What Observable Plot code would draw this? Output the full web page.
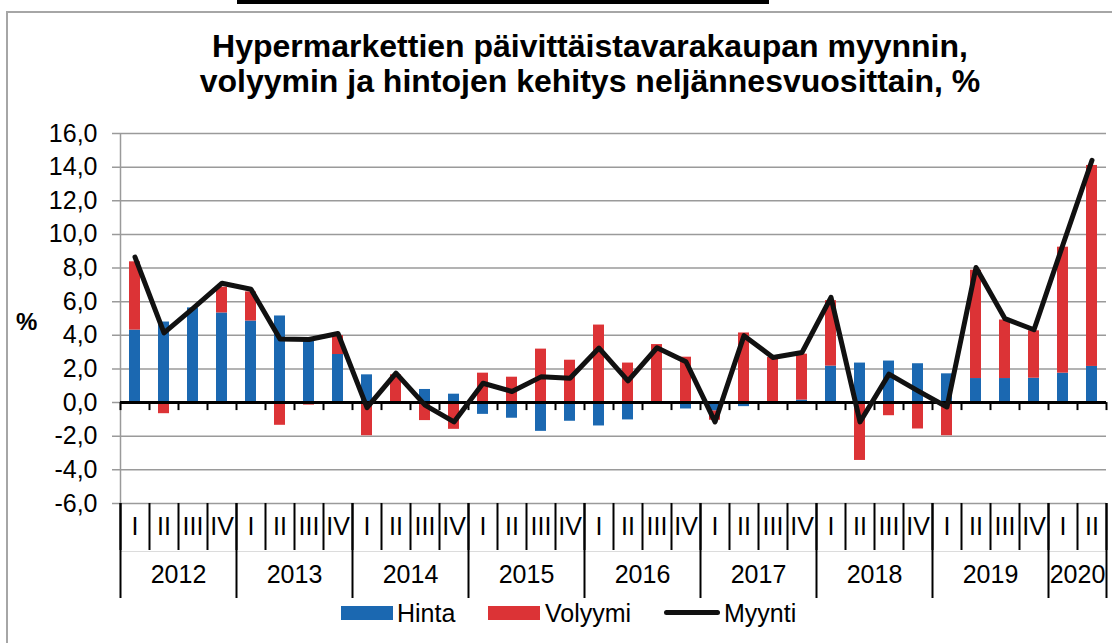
<!DOCTYPE html>
<html>
<head>
<meta charset="utf-8">
<script src="https://cdn.jsdelivr.net/npm/d3@7"></script>
<script src="https://cdn.jsdelivr.net/npm/@observablehq/plot@0.6"></script>
<style>
  body { margin: 0; background: #fff; font-family: "Liberation Sans", Arial, sans-serif; }
  #wrap { position: relative; width: 1112px; height: 643px; overflow: hidden; background: #fff; }
  #topbar { position: absolute; left: 237px; top: 0; width: 532px; height: 4px; background: #000; }
  #frame { position: absolute; left: 6px; top: 11px; width: 1110px; height: 640px; border-left: 2px solid #a6a6a6; border-top: 2px solid #a6a6a6; }
  #title { position: absolute; left: 90px; width: 1000px; top: 29px; text-align: center; font-weight: bold; font-size: 32px; line-height: 35px; color: #000; }
  #chart { position: absolute; left: 0; top: 0; }
  #ylab { position: absolute; left: 16px; top: 308px; font-weight: bold; font-size: 24px; line-height: 28px; }
  .leg { position: absolute; font-size: 25px; line-height: 28px; top: 599px; color: #000; }
  .sw { position: absolute; top: 606px; width: 52px; height: 14px; }
  #lline { position: absolute; left: 664px; top: 610px; width: 56px; height: 5px; background: #111; border-radius: 3px; }
</style>
</head>
<body>
<div id="wrap">
  <div id="topbar"></div>
  <div id="frame"></div>
  <div id="chart"></div>
  <div id="title">Hypermarkettien päivittäistavarakaupan myynnin,<br>volyymin ja hintojen kehitys neljännesvuosittain, %</div>
  <div id="ylab">%</div>
  <div class="sw" style="left:341px;background:#1b68b1"></div>
  <div class="leg" style="left:397px">Hinta</div>
  <div class="sw" style="left:488px;background:#dc3336"></div>
  <div class="leg" style="left:545px">Volyymi</div>
  <div id="lline"></div>
  <div class="leg" style="left:724px">Myynti</div>
</div>
<script>
// ---- data ----
const years = ["2012", "2013", "2014", "2015", "2016", "2017", "2018", "2019", "2020"];
const quarterNames = ["I", "II", "III", "IV"];
const hinta = [4.31, 4.79, 5.63, 5.33, 4.85, 5.15, 3.85, 2.86,
               1.65, 0.05, 0.78, 0.50, -0.70, -0.93, -1.71, -1.11,
               -1.39, -1.03, 0.00, -0.38, -0.50, -0.24, -0.10, 0.15,
               2.17, 2.35, 2.47, 2.31, 1.71, 1.43, 1.43, 1.45,
               1.75, 2.15];
const volyymi = [4.06, -0.66, 0.00, 1.53, 1.73, -1.35, -0.15, 1.12,
                 -1.97, 1.60, -1.07, -1.59, 1.75, 1.51, 3.18, 2.52,
                 4.61, 2.35, 3.45, 2.70, -0.55, 4.14, 2.68, 2.73,
                 3.89, -3.44, -0.78, -1.57, -1.97, 6.44, 3.48, 2.82,
                 7.49, 11.95];
const myynti = [8.65, 4.15, 5.60, 7.10, 6.74, 3.78, 3.75, 4.11,
                -0.30, 1.75, -0.15, -1.15, 1.15, 0.66, 1.53, 1.45,
                3.24, 1.29, 3.26, 2.43, -1.15, 3.98, 2.68, 2.98,
                6.26, -1.15, 1.69, 0.70, -0.26, 8.03, 4.99, 4.33,
                9.40, 14.41];
const yTicks = [-6, -4, -2, 0, 2, 4, 6, 8, 10, 12, 14, 16];

// ---- derived tables ----
const rows = myynti.map((v, i) => ({
  i, q: quarterNames[i % 4], year: years[Math.floor(i / 4)], myynti: v
}));
const bars = [];
rows.forEach(r => {
  bars.push({i: r.i, series: "Hinta", value: hinta[r.i]});
  bars.push({i: r.i, series: "Volyymi", value: volyymi[r.i]});
});
const n = rows.length;
const bounds = d3.range(n + 1);
const yearBounds = bounds.filter(b => b % 4 === 0 || b === n);
const yearRows = years.map((y, k) => {
  const s = k * 4, e = Math.min(n, s + 4);
  return {year: y, mid: (s + e) / 2};
});

const fmt = d => d.toFixed(1).replace(".", ",");
const blue = "#1b68b1", red = "#dc3336";
const H = 643, mT = 133, mB = 140;
const innerH = H - mT - mB;

const chart = Plot.plot({
  width: 1112,
  height: H,
  marginLeft: 120,
  marginRight: 6,
  marginTop: mT,
  marginBottom: mB,
  x: {type: "linear", domain: [0, n], axis: null},
  y: {domain: [-6, 16], axis: null},
  color: {domain: ["Hinta", "Volyymi"], range: [blue, red]},
  style: {
    fontFamily: "'Liberation Sans', Arial, sans-serif",
    fontSize: "25px",
    color: "#000",
    background: "transparent",
    overflow: "visible"
  },
  marks: [
    Plot.ruleY(yTicks, {stroke: "#9a9a9a", strokeWidth: 1.5, insetLeft: -8}),
    Plot.ruleX([0], {stroke: "#9a9a9a", strokeWidth: 1.5}),
    Plot.axisY({ticks: yTicks, tickSize: 0, tickPadding: 23, tickFormat: fmt, label: null}),
    Plot.ruleY([-6], {dy: 48, stroke: "#dcdcdc", strokeWidth: 1}),
    Plot.rectY(bars, {x1: "i", x2: d => d.i + 1, y: "value", fill: "series", insetLeft: 9, insetRight: 9}),
    Plot.ruleY([0], {stroke: "#000", strokeWidth: 3}),
    Plot.ruleX(bounds, {y1: 0, y2: 0, insetBottom: -8, stroke: "#000", strokeWidth: 2}),
    Plot.line(rows, {x: d => d.i + 0.5, y: "myynti", stroke: "#111", strokeWidth: 5,
                     strokeLinejoin: "round", strokeLinecap: "round"}),
    Plot.ruleX(bounds, {insetTop: innerH, insetBottom: -47, stroke: "#000", strokeWidth: 2}),
    Plot.ruleX(yearBounds, {insetTop: innerH, insetBottom: -95, stroke: "#000", strokeWidth: 2}),
    Plot.text(rows, {x: d => d.i + 0.5, frameAnchor: "bottom", dy: 31, text: "q"}),
    Plot.text(yearRows, {x: "mid", frameAnchor: "bottom", dy: 79, text: "year"})
  ]
});
document.getElementById("chart").appendChild(chart);
</script>
</body>
</html>
